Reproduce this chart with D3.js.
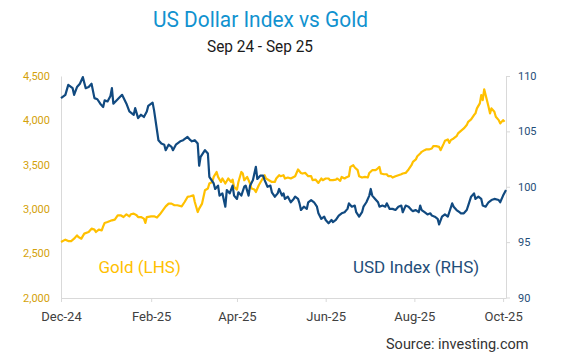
<!DOCTYPE html>
<html><head><meta charset="utf-8">
<script src="https://cdn.jsdelivr.net/npm/d3@7"></script>
<style>body{margin:0;background:#fff} svg{display:block;font-family:Roboto,"Noto Sans",sans-serif}</style>
</head><body><svg id="c" width="565" height="358"></svg>
<script>
const goldDates = ["2024-12-01","2024-12-04","2024-12-06","2024-12-08","2024-12-10","2024-12-12","2024-12-13","2024-12-15","2024-12-17","2024-12-20","2024-12-22","2024-12-24","2024-12-25","2024-12-27","2024-12-29","2024-12-30","2024-12-31",
"2025-01-02","2025-01-05","2025-01-07","2025-01-09","2025-01-11","2025-01-13","2025-01-15","2025-01-17","2025-01-18","2025-01-20","2025-01-22","2025-01-23","2025-01-25","2025-01-27","2025-01-28","2025-01-29",
"2025-02-01","2025-02-03","2025-02-05","2025-02-07","2025-02-09","2025-02-11","2025-02-13","2025-02-15","2025-02-17","2025-02-19","2025-02-22","2025-02-24","2025-02-26","2025-02-28",
"2025-03-02","2025-03-03","2025-03-05","2025-03-06","2025-03-08","2025-03-10","2025-03-12","2025-03-13","2025-03-15","2025-03-16","2025-03-18","2025-03-19","2025-03-21","2025-03-22","2025-03-24","2025-03-26","2025-03-28","2025-03-29","2025-03-30",
"2025-04-01","2025-04-02","2025-04-04","2025-04-05","2025-04-06","2025-04-08","2025-04-10","2025-04-11","2025-04-13","2025-04-14","2025-04-16","2025-04-18","2025-04-20","2025-04-21","2025-04-23","2025-04-25","2025-04-27","2025-04-28","2025-04-30",
"2025-05-01","2025-05-03","2025-05-04","2025-05-06","2025-05-08","2025-05-10","2025-05-11","2025-05-13","2025-05-15","2025-05-16","2025-05-18","2025-05-20","2025-05-22","2025-05-23","2025-05-25","2025-05-27","2025-05-29","2025-05-30",
"2025-06-01","2025-06-03","2025-06-04","2025-06-06","2025-06-08","2025-06-09","2025-06-11","2025-06-12","2025-06-14","2025-06-15","2025-06-17","2025-06-18","2025-06-20","2025-06-21","2025-06-23","2025-06-24","2025-06-26","2025-06-28","2025-06-30",
"2025-07-01","2025-07-03","2025-07-05","2025-07-06","2025-07-08","2025-07-09","2025-07-11","2025-07-13","2025-07-14","2025-07-16","2025-07-17","2025-07-19","2025-07-21","2025-07-23","2025-07-24","2025-07-26","2025-07-28","2025-07-30","2025-07-31",
"2025-08-02","2025-08-03","2025-08-05","2025-08-06","2025-08-08","2025-08-09","2025-08-11","2025-08-13","2025-08-14","2025-08-16","2025-08-18","2025-08-19","2025-08-21","2025-08-22","2025-08-24","2025-08-25","2025-08-26","2025-08-28","2025-08-30","2025-08-31",
"2025-09-02","2025-09-04","2025-09-06","2025-09-07","2025-09-09","2025-09-11","2025-09-12","2025-09-13","2025-09-15","2025-09-16","2025-09-17","2025-09-18","2025-09-19","2025-09-21","2025-09-22","2025-09-23","2025-09-25","2025-09-26","2025-09-28","2025-09-29",
"2025-10-01","2025-10-02"];
const goldValues = [2626,2653,2637,2637,2664,2701,2682,2664,2721,2739,2777,2766,2739,2766,2758,2803,2841,
2852,2871,2879,2928,2928,2908,2939,2916,2939,2947,2928,2908,2908,2890,2841,2908,
2916,2916,2902,2939,2984,3029,3060,3060,3041,3041,3029,3078,3135,3143,
3154,3078,2965,3003,3060,3210,3230,3286,3304,3361,3417,3361,3304,3343,3286,3343,3304,3331,3248,
3218,3304,3417,3399,3324,3361,3286,3230,3218,3191,3267,3324,3380,3343,3324,3304,3304,3343,3380,
3369,3380,3343,3354,3343,3361,3369,3445,3406,3399,3406,3369,3369,3324,3331,3293,3343,3324,
3343,3343,3324,3324,3331,3343,3316,3361,3343,3354,3369,3474,3493,3467,3437,3369,3354,3361,3354,
3406,3437,3437,3445,3474,3399,3391,3391,3369,3369,3354,3369,3380,3391,3399,3406,3445,3493,3531,
3558,3595,3626,3644,3663,3671,3671,3682,3708,3708,3700,3663,3731,3768,3784,3745,3776,3795,3821,3852,
3881,3908,3946,3983,4010,4059,4078,4135,4191,4285,4228,4350,4285,4153,4078,4135,4096,4040,4002,3965,
4002,3983];
const usdDates = ["2024-12-01","2024-12-04","2024-12-06","2024-12-09","2024-12-10","2024-12-12","2024-12-14","2024-12-16","2024-12-18","2024-12-20","2024-12-22","2024-12-24","2024-12-26","2024-12-28","2024-12-30","2024-12-31",
"2025-01-02","2025-01-04","2025-01-05","2025-01-06","2025-01-09","2025-01-12","2025-01-15","2025-01-17","2025-01-20","2025-01-21","2025-01-23","2025-01-25","2025-01-27","2025-01-29","2025-01-30",
"2025-02-02","2025-02-03","2025-02-05","2025-02-06","2025-02-08","2025-02-10","2025-02-11","2025-02-13","2025-02-15","2025-02-16","2025-02-18","2025-02-21","2025-02-23","2025-02-26","2025-02-28",
"2025-03-01","2025-03-03","2025-03-05","2025-03-06","2025-03-07","2025-03-10","2025-03-12","2025-03-13","2025-03-16","2025-03-17","2025-03-19","2025-03-20","2025-03-22","2025-03-24","2025-03-25","2025-03-27","2025-03-29","2025-03-30",
"2025-04-01","2025-04-02","2025-04-04","2025-04-06","2025-04-07","2025-04-09","2025-04-10","2025-04-12","2025-04-14","2025-04-15","2025-04-17","2025-04-19","2025-04-20","2025-04-22","2025-04-24","2025-04-25","2025-04-27","2025-04-29","2025-04-30",
"2025-05-02","2025-05-03","2025-05-04","2025-05-06","2025-05-08","2025-05-10","2025-05-11","2025-05-13","2025-05-14","2025-05-15","2025-05-17","2025-05-19","2025-05-20","2025-05-22","2025-05-24","2025-05-26","2025-05-27","2025-05-29","2025-05-31",
"2025-06-01","2025-06-03","2025-06-05","2025-06-06","2025-06-08","2025-06-10","2025-06-12","2025-06-14","2025-06-16","2025-06-17","2025-06-19","2025-06-21","2025-06-22","2025-06-24","2025-06-26","2025-06-27","2025-06-29",
"2025-07-01","2025-07-02","2025-07-03","2025-07-05","2025-07-07","2025-07-08","2025-07-10","2025-07-12","2025-07-13","2025-07-15","2025-07-17","2025-07-19","2025-07-21","2025-07-23","2025-07-24","2025-07-26","2025-07-28","2025-07-30","2025-07-31",
"2025-08-02","2025-08-04","2025-08-05","2025-08-06","2025-08-08","2025-08-10","2025-08-12","2025-08-13","2025-08-15","2025-08-17","2025-08-18","2025-08-20","2025-08-22","2025-08-24","2025-08-25","2025-08-27","2025-08-28","2025-08-30",
"2025-09-01","2025-09-02","2025-09-04","2025-09-06","2025-09-07","2025-09-09","2025-09-11","2025-09-12","2025-09-14","2025-09-16","2025-09-17","2025-09-19","2025-09-21","2025-09-23","2025-09-25","2025-09-28","2025-09-29",
"2025-10-01","2025-10-03"];
const usdValues = [108.0,108.3,109.2,108.9,108.3,109.0,109.3,109.9,108.9,109.0,109.3,108.0,107.9,107.5,107.2,107.8,
107.7,108.2,108.9,107.5,107.9,108.3,107.5,106.8,106.5,107.1,106.2,106.5,106.3,106.8,107.3,
107.6,106.9,105.1,104.2,103.9,103.8,103.3,103.8,103.6,103.3,103.8,104.1,104.2,104.5,104.2,
104.1,104.2,103.9,101.9,102.7,103.3,103.0,100.9,100.3,99.8,100.1,99.2,99.4,98.2,99.7,99.4,100.1,99.2,
98.9,99.5,99.2,100.0,100.1,99.2,100.1,100.6,101.8,100.7,101.0,101.0,100.6,100.0,100.1,99.5,99.1,99.4,99.8,
99.2,99.4,98.9,99.1,98.6,98.9,99.1,98.9,98.5,97.9,98.2,98.0,98.6,98.8,98.6,98.2,97.6,97.1,97.3,
97.0,96.7,97.0,96.8,97.0,97.4,97.6,97.7,98.0,98.5,98.2,98.3,97.7,97.3,97.7,98.2,98.6,
99.2,99.8,99.2,98.9,98.6,98.2,98.3,98.2,98.5,98.0,98.0,97.9,98.2,98.3,97.7,98.3,98.2,97.9,97.8,
97.9,97.7,98.3,97.9,97.7,97.5,97.6,97.4,97.3,97.1,96.6,97.3,97.5,97.3,97.7,98.5,98.2,97.9,
97.7,97.6,97.6,97.9,98.3,99.1,99.4,98.9,99.1,98.9,98.3,98.2,98.6,98.8,98.9,98.8,98.6,
99.2,99.7];
const xTickDates = ["2024-12-01","2025-02-01","2025-04-01","2025-06-01","2025-08-01","2025-10-01"];
const xTickLabels = ["Dec-24","Feb-25","Apr-25","Jun-25","Aug-25","Oct-25"];
const goldTicks = [2000,2500,3000,3500,4000,4500];
const usdTicks = [90,95,100,105,110];

const parse = d3.utcParse("%Y-%m-%d");
const svg = d3.select("#c");
const L = 61, R = 506, T = 76, B = 297.5;
const GOLD = "#FFC000", NAVY = "#114A80", AXIS = "#d9d9d9";

const x = d3.scaleUtc().domain([parse("2024-12-01"), parse("2025-10-03")]).range([L, R]);
const yL = d3.scaleLinear().domain([2000, 4500]).range([B, T]);
const yR = d3.scaleLinear().domain([90, 110]).range([B, T]);

// title
svg.append("text").attr("x", 260.5).attr("y", 26.5).attr("text-anchor", "middle")
  .attr("font-size", 22).attr("fill", "#1192CF").attr("textLength", 215).attr("lengthAdjust", "spacingAndGlyphs")
  .text("US Dollar Index vs Gold");
svg.append("text").attr("x", 260).attr("y", 51.5).attr("text-anchor", "middle")
  .attr("font-size", 17).attr("fill", "#1a1a1a").attr("textLength", 106).attr("lengthAdjust", "spacingAndGlyphs")
  .text("Sep 24 - Sep 25");

// axes
const gL = svg.append("g").attr("transform", `translate(${L},0)`)
  .call(d3.axisLeft(yL).tickValues(goldTicks).tickFormat(d3.format(",")).tickSize(0).tickPadding(11));
gL.selectAll("text").attr("font-size", 11).attr("fill", "#D4A20A").attr("font-family", "Roboto");
const gR = svg.append("g").attr("transform", `translate(${R},0)`)
  .call(d3.axisRight(yR).tickValues(usdTicks).tickSizeInner(4).tickSizeOuter(0).tickPadding(8));
gR.selectAll("text").attr("font-size", 11).attr("fill", "#1F4E79").attr("font-family", "Roboto");
const gB = svg.append("g").attr("transform", `translate(0,${B + 0.5})`)
  .call(d3.axisBottom(x).tickValues(xTickDates.map(parse)).tickFormat((d, i) => xTickLabels[i]).tickSizeInner(4).tickSizeOuter(0).tickPadding(10));
gB.selectAll("text").attr("font-size", 13).attr("fill", "#404040").attr("font-family", "Roboto");
[gL, gR, gB].forEach(g => { g.selectAll("path,line").attr("stroke", AXIS); });

// lines
const gold = goldDates.map((d, i) => ({ d: parse(d), v: goldValues[i] }));
const usd = usdDates.map((d, i) => ({ d: parse(d), v: usdValues[i] }));
svg.append("path").datum(gold).attr("fill", "none").attr("stroke", GOLD).attr("stroke-width", 2.2)
  .attr("stroke-linejoin", "round").attr("d", d3.line().x(p => x(p.d)).y(p => yL(p.v)));
svg.append("path").datum(usd).attr("fill", "none").attr("stroke", NAVY).attr("stroke-width", 2.2)
  .attr("stroke-linejoin", "round").attr("d", d3.line().x(p => x(p.d)).y(p => yR(p.v)));

// series labels
svg.append("text").attr("x", 98.5).attr("y", 272.5).attr("font-size", 17).attr("fill", GOLD).text("Gold (LHS)");
svg.append("text").attr("x", 353).attr("y", 272.5).attr("font-size", 17).attr("fill", "#1F4E79").text("USD Index (RHS)");

// source
svg.append("text").attr("x", 528.5).attr("y", 348.5).attr("text-anchor", "end").attr("font-size", 14.5)
  .attr("fill", "#333").text("Source: investing.com");
</script></body></html>
